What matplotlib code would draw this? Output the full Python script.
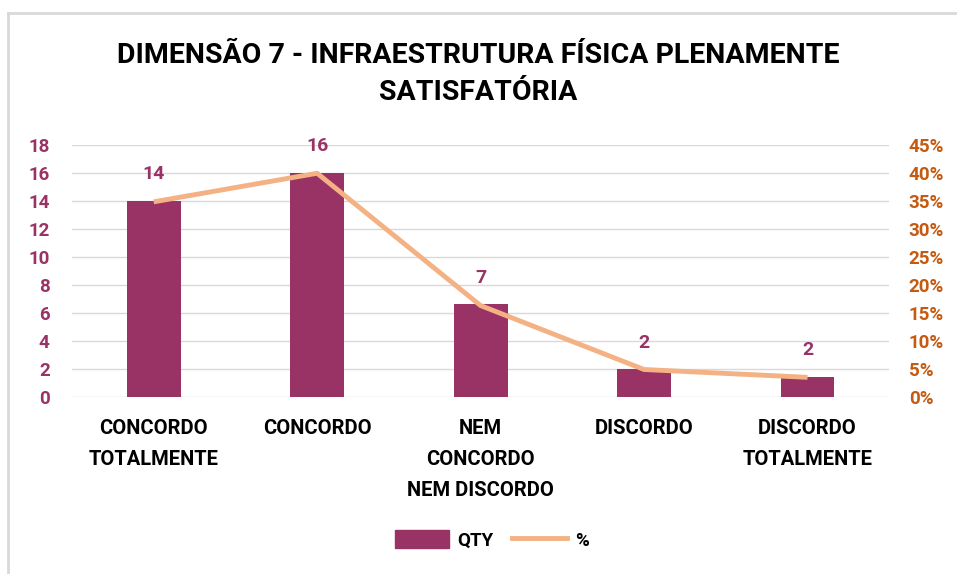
import numpy as np
import matplotlib
matplotlib.use("Agg")
import matplotlib.pyplot as plt
from matplotlib.lines import Line2D
from matplotlib.ticker import FuncFormatter

plt.rcParams['font.family'] = ['Roboto', 'DejaVu Sans']
plt.rcParams['font.weight'] = 'bold'

categories = ["CONCORDO\nTOTALMENTE", "CONCORDO", "NEM\nCONCORDO\nNEM DISCORDO",
              "DISCORDO", "DISCORDO\nTOTALMENTE"]
qty = [14, 16, 6.6, 2.0, 1.45]
qty_labels = ["14", "16", "7", "2", "2"]
pct = [34.8, 39.9, 16.3, 4.9, 3.5]

bar_color = "#993366"
line_color = "#F4B183"
pct_color = "#C55A11"
grid_color = "#D9D9D9"

fig = plt.figure(figsize=(9.57, 5.74), dpi=100)
ax = fig.add_axes([0.0752, 0.3084, 0.854, 0.4396])
ax2 = ax.twinx()

x = np.arange(len(categories))
ax.bar(x, qty, width=0.33, color=bar_color, zorder=2)
ax2.plot(x, pct, color=line_color, lw=3.5, solid_capstyle='butt', zorder=3)

ax.set_xlim(-0.5, len(categories) - 0.5)
ax.set_ylim(0, 18)
ax.set_yticks(np.arange(0, 19, 2))
ax2.set_ylim(0, 45)
ax2.set_yticks(np.arange(0, 46, 5))
ax2.yaxis.set_major_formatter(FuncFormatter(lambda v, p: f"{v:.0f}%"))

ax.grid(axis='y', color=grid_color, lw=1, zorder=0)
ax.set_axisbelow(True)
for a in (ax, ax2):
    for s in a.spines.values():
        s.set_visible(False)
    a.tick_params(length=0)
ax2.patch.set_visible(False)

ax.tick_params(axis='y', labelcolor=bar_color, labelsize=13.5, pad=16)
ax2.tick_params(axis='y', labelcolor=pct_color, labelsize=13.5, pad=14)
ax.set_xticks(x)
ax.set_xticklabels(categories, fontsize=14.5, linespacing=1.78, va='top')
ax.tick_params(axis='x', pad=16)

for xi, v, lab in zip(x, qty, qty_labels):
    ax.annotate(lab, (xi, v), xytext=(0, 19), textcoords='offset points',
                ha='center', va='center', color=bar_color, fontsize=14)

fig.text(0.5, 0.871, "DIMENSÃO 7 - INFRAESTRUTURA FÍSICA PLENAMENTE\nSATISFATÓRIA",
         ha='center', va='center', fontsize=20.5, linespacing=1.45, color='black')

handles = [plt.Rectangle((0, 0), 1, 1, color=bar_color),
           Line2D([0], [0], color=line_color, lw=3.5)]
fig.legend(handles, ["QTY", "%"], loc='center', bbox_to_anchor=(0.514, 0.059),
           ncol=2, frameon=False, fontsize=13.5, handlelength=2.9, handleheight=1.1,
           columnspacing=1.0, handletextpad=0.45)

# chart frame (top and left edges visible)
fig.add_artist(Line2D([0.0084, 1.0], [0.977, 0.977], color="#D9D9D9", lw=2,
                      transform=fig.transFigure))
fig.add_artist(Line2D([0.0084, 0.0084], [0.0, 0.977], color="#D9D9D9", lw=2,
                      transform=fig.transFigure))

fig.savefig("out.png", dpi=100)
